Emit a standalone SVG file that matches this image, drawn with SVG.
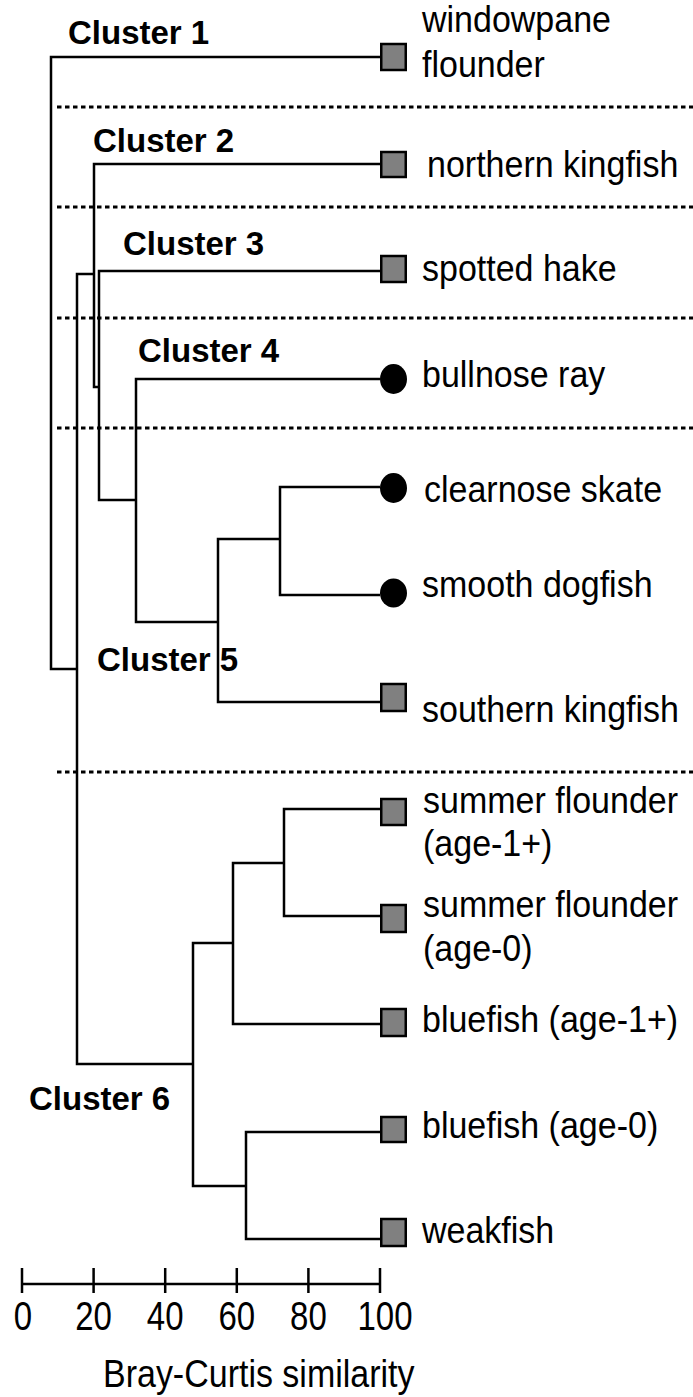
<svg xmlns="http://www.w3.org/2000/svg" width="693" height="1397" viewBox="0 0 693 1397">
<style>
.ln{fill:none;stroke:#000;stroke-width:2.5;stroke-linejoin:miter}
.dot{fill:none;stroke:#000;stroke-width:3;stroke-dasharray:4.5 3.5}
.sq{fill:#808080;stroke:#000;stroke-width:2.5}
.ci{fill:#000}
.lab{font-family:"Liberation Sans",Arial,sans-serif;font-size:34px;fill:#000}
.cl{font-family:"Liberation Sans",Arial,sans-serif;font-size:33px;font-weight:bold;fill:#000}
.ax{font-family:"Liberation Sans",Arial,sans-serif;font-size:33px;fill:#000;text-anchor:middle}
</style>
<rect width="693" height="1397" fill="#fff"/>
<g id="separators">
<path class="dot" d="M57,107H693M57,207H693M57,318H693M57,428H693M57,772H693"/>
</g>
<g id="connectors">
<path class="ln" d="M380,57H51V669H77"/>
<path class="ln" d="M94,274H77V1064H193"/>
<path class="ln" d="M380,164H94V387H99"/>
<path class="ln" d="M380,271H99V500H136"/>
<path class="ln" d="M380,379H136V622H218"/>
<path class="ln" d="M380,702H218V539H280"/>
<path class="ln" d="M380,487H280V595H380"/>
<path class="ln" d="M233,943H193V1186H246"/>
<path class="ln" d="M380,809H284V916H380"/>
<path class="ln" d="M284,863H233V1024H380"/>
<path class="ln" d="M380,1132H246V1239H380"/>
</g>
<g id="cluster-labels">
<text class="cl" x="68" y="44">Cluster 1</text>
<text class="cl" x="93" y="152">Cluster 2</text>
<text class="cl" x="123" y="255">Cluster 3</text>
<text class="cl" x="138" y="362">Cluster 4</text>
<text class="cl" x="97" y="671">Cluster 5</text>
<text class="cl" x="29" y="1110">Cluster 6</text>
</g>
<g id="windowpane-flounder"><rect class="sq" x="381.25" y="44" width="24.5" height="26"/><text class="lab" transform="translate(422,32) scale(1,1.1)">windowpane</text><text class="lab" transform="translate(422,77) scale(1,1.1)">flounder</text></g>
<g id="northern-kingfish"><rect class="sq" x="381.25" y="152" width="24.5" height="25"/><text class="lab" transform="translate(427,177) scale(1,1.1)">northern kingfish</text></g>
<g id="spotted-hake"><rect class="sq" x="381.25" y="256" width="24.5" height="26"/><text class="lab" transform="translate(422,281) scale(1,1.1)">spotted hake</text></g>
<g id="bullnose-ray"><ellipse class="ci" cx="393.5" cy="379" rx="13.5" ry="15"/><text class="lab" transform="translate(422,387) scale(1,1.1)">bullnose ray</text></g>
<g id="clearnose-skate"><ellipse class="ci" cx="393.5" cy="488" rx="13.5" ry="15"/><text class="lab" transform="translate(424,502) scale(1,1.1)">clearnose skate</text></g>
<g id="smooth-dogfish"><ellipse class="ci" cx="393.5" cy="593" rx="13.5" ry="14.5"/><text class="lab" transform="translate(422,597) scale(1,1.1)">smooth dogfish</text></g>
<g id="southern-kingfish"><rect class="sq" x="381.25" y="684" width="24.5" height="27"/><text class="lab" transform="translate(422,722) scale(1,1.1)">southern kingfish</text></g>
<g id="summer-flounder-age1"><rect class="sq" x="381.25" y="799" width="24.5" height="26"/><text class="lab" transform="translate(423,813) scale(1,1.1)">summer flounder</text><text class="lab" transform="translate(423,856) scale(1,1.1)">(age-1+)</text></g>
<g id="summer-flounder-age0"><rect class="sq" x="381.25" y="905" width="24.5" height="27"/><text class="lab" transform="translate(423,917) scale(1,1.1)">summer flounder</text><text class="lab" transform="translate(423,961) scale(1,1.1)">(age-0)</text></g>
<g id="bluefish-age1"><rect class="sq" x="381.25" y="1009" width="24.5" height="27"/><text class="lab" transform="translate(422,1032) scale(1,1.1)">bluefish (age-1+)</text></g>
<g id="bluefish-age0"><rect class="sq" x="381.25" y="1117" width="24.5" height="25"/><text class="lab" transform="translate(422,1138) scale(1,1.1)">bluefish (age-0)</text></g>
<g id="weakfish"><rect class="sq" x="381.25" y="1219" width="24.5" height="27"/><text class="lab" transform="translate(422,1243) scale(1,1.1)">weakfish</text></g>
<g id="axis">
<path class="ln" d="M22,1284H380M22,1268V1293M93.6,1268V1293M165.2,1268V1293M236.8,1268V1293M308.4,1268V1293M380,1268V1293"/>
<text class="ax" transform="translate(23,1330) scale(1,1.25)">0</text>
<text class="ax" transform="translate(93.6,1330) scale(1,1.25)">20</text>
<text class="ax" transform="translate(165.2,1330) scale(1,1.25)">40</text>
<text class="ax" transform="translate(236.8,1330) scale(1,1.25)">60</text>
<text class="ax" transform="translate(308.4,1330) scale(1,1.25)">80</text>
<text class="ax" transform="translate(385,1330) scale(1,1.25)">100</text>
<text class="lab" transform="translate(103,1387) scale(1,1.12)">Bray-Curtis similarity</text>
</g>
</svg>
